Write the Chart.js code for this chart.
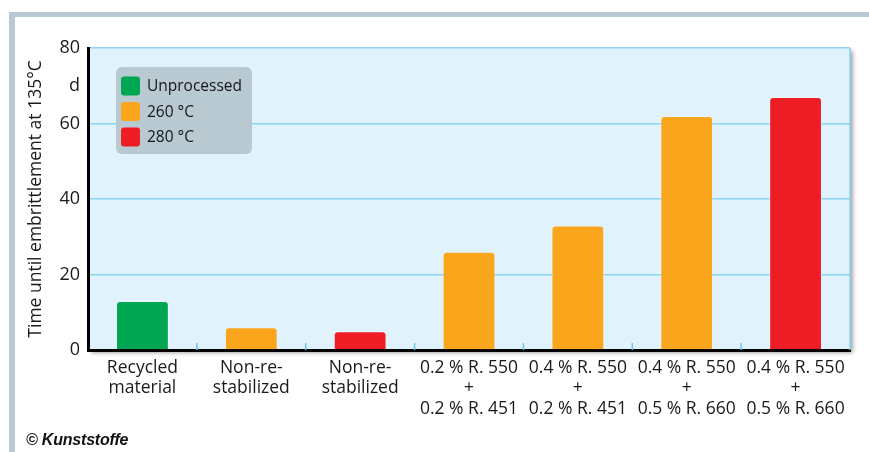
<!DOCTYPE html>
<html>
<head>
<meta charset="utf-8">
<script src="https://cdn.jsdelivr.net/npm/chart.js@4.4.1/dist/chart.umd.min.js"></script>
<style>
  html, body { margin: 0; padding: 0; background: #fff; }
  #wrap { position: relative; width: 869px; height: 452px; overflow: hidden; }
  #frameTop { position: absolute; left: 9px; top: 12px; width: 860px; height: 5px; background: #b9c9d3; }
  #frameLeft { position: absolute; left: 9px; top: 12px; width: 6px; height: 440px; background: #b9c9d3; }
  #copy { position: absolute; left: 26px; top: 431px; font: italic bold 16px "Liberation Sans", sans-serif; color: #111; letter-spacing: -0.2px; }
  canvas { position: absolute; left: 0; top: 0; }
</style>
</head>
<body>
<div id="wrap">
  <div id="frameTop"></div>
  <div id="frameLeft"></div>
  <canvas id="c" width="869" height="452"></canvas>
  <div id="copy">© Kunststoffe</div>
</div>
<script>
// categories (multi-line labels)
const categories = [
  ["Recycled", "material"],
  ["Non-re-", "stabilized"],
  ["Non-re-", "stabilized"],
  ["0.2 % R. 550", "+", "0.2 % R. 451"],
  ["0.4 % R. 550", "+", "0.2 % R. 451"],
  ["0.4 % R. 550", "+", "0.5 % R. 660"],
  ["0.4 % R. 550", "+", "0.5 % R. 660"],
];

// days until embrittlement, split by processing temperature
const unprocessed = [13, null, null, null, null, null, null];
const temp260 = [null, 6, null, 26, 33, 62, null];
const temp280 = [null, null, 5, null, null, null, 67];

const seriesLabels = ["Unprocessed", "260 °C", "280 °C"];
const seriesColors = ["#00a651", "#f9a61c", "#ee1c25"];

const yTickValues = [0, 20, 40, 60, 70, 80];
const yTickLabels = ["0", "20", "40", "60", "d", "80"];

const FONT = "'Open Sans', 'Noto Sans', sans-serif";
const GRID_BLUE = "#8ad3f3";

// plot background with drop shadow + light blue right edge + inner ticks
const plotFrame = {
  id: "plotFrame",
  beforeDraw(chart) {
    const { ctx, chartArea: a } = chart;
    ctx.save();
    ctx.shadowColor = "rgba(0,0,0,0.35)";
    ctx.shadowBlur = 4;
    ctx.shadowOffsetX = 3;
    ctx.shadowOffsetY = 3;
    ctx.fillStyle = "#e0f2fc";
    ctx.fillRect(a.left, a.top, a.right - a.left, a.bottom - a.top);
    ctx.restore();
  },
  beforeDatasetsDraw(chart) {
    const { ctx, chartArea: a } = chart;
    const x = chart.scales.x;
    ctx.save();
    ctx.strokeStyle = GRID_BLUE;
    ctx.lineWidth = 1.5;
    ctx.beginPath();
    ctx.moveTo(a.right, a.top);
    ctx.lineTo(a.right, a.bottom);
    ctx.stroke();
    ctx.strokeStyle = "#6cc6f0";
    for (let i = 1; i < categories.length; i++) {
      const px = (x.getPixelForValue(i - 1) + x.getPixelForValue(i)) / 2;
      ctx.beginPath();
      ctx.moveTo(px, a.bottom - 7);
      ctx.lineTo(px, a.bottom);
      ctx.stroke();
    }
    ctx.restore();
  },
};

// legend drawn inside the plot on a grey rounded box
const boxLegend = {
  id: "boxLegend",
  afterDatasetsDraw(chart) {
    const { ctx, chartArea: a } = chart;
    const bx = a.left + 28, by = a.top + 19, bw = 136, bh = 87;
    ctx.save();
    ctx.fillStyle = "#b9c9d2";
    ctx.beginPath();
    ctx.roundRect(bx, by, bw, bh, 6);
    ctx.fill();
    ctx.font = "15.5px " + FONT;
    ctx.textBaseline = "middle";
    chart.data.datasets.forEach((ds, i) => {
      const cy = by + 19 + i * 25.5;
      ctx.fillStyle = ds.backgroundColor;
      ctx.beginPath();
      ctx.roundRect(bx + 5, cy - 9.5, 19, 19, 3);
      ctx.fill();
      ctx.fillStyle = "#151515";
      ctx.fillText(ds.label, bx + 31, cy + 1);
    });
    ctx.restore();
  },
};

const datasets = [unprocessed, temp260, temp280].map((data, i) => ({
  label: seriesLabels[i],
  data,
  backgroundColor: seriesColors[i],
  borderColor: "rgba(255,255,255,0.35)",
  borderWidth: { top: 1, left: 1, right: 1, bottom: 0 },
  borderRadius: { topLeft: 4, topRight: 4 },
  borderSkipped: "bottom",
  grouped: false,
  categoryPercentage: 1,
  barPercentage: 0.485,
}));

new Chart(document.getElementById("c"), {
  type: "bar",
  data: { labels: categories, datasets },
  options: {
    responsive: false,
    animation: false,
    layout: { padding: { top: 48, right: 19, left: 0, bottom: 0 } },
    plugins: {
      legend: { display: false },
      tooltip: { enabled: false },
    },
    scales: {
      x: {
        z: 1,
        afterFit: (s) => { s.height = 102; },
        grid: { display: true, drawOnChartArea: false, drawTicks: false },
        border: { color: "#000", width: 3 },
        ticks: {
          padding: 8,
          color: "#1a1a1a",
          font: { family: FONT, size: 17.5, lineHeight: 1.16 },
          maxRotation: 0,
          autoSkip: false,
        },
      },
      y: {
        min: 0,
        max: 80,
        afterFit: (s) => { s.width = 88; },
        afterBuildTicks: (s) => { s.ticks = yTickValues.map((v) => ({ value: v })); },
        grid: {
          drawTicks: false,
          lineWidth: 1.5,
          color: (c) => (c.tick && (c.tick.value === 0 || c.tick.value === 70) ? "rgba(0,0,0,0)" : GRID_BLUE),
        },
        border: { color: "#000", width: 3 },
        ticks: {
          padding: 8,
          color: "#1a1a1a",
          font: { family: FONT, size: 18 },
          callback: (v) => yTickLabels[yTickValues.indexOf(v)],
        },
        title: {
          display: true,
          text: "Time until embrittlement at 135°C",
          color: "#1a1a1a",
          font: { family: FONT, size: 17.5 },
          padding: { top: 26, bottom: 0 },
        },
      },
    },
  },
  plugins: [plotFrame, boxLegend],
});
</script>
</body>
</html>
